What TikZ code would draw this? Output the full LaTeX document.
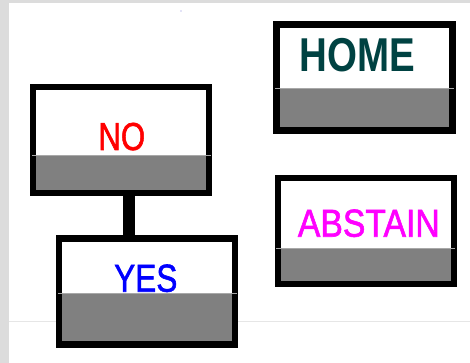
\documentclass[tikz,border=0pt]{standalone}
\usepackage{fontspec}
\usepackage{graphicx}
\setmainfont{Liberation Sans}
\newfontfamily\medfont[FakeBold=1.6]{Liberation Sans}
\usetikzlibrary{calc}
\definecolor{bggray}{HTML}{DCDCDC}
\definecolor{bandgray}{HTML}{808080}
\definecolor{sepgray}{HTML}{A8A8A8}
\definecolor{faintgray}{HTML}{E6E6E6}
\definecolor{hometeal}{RGB}{0,66,66}
\definecolor{dotlav}{HTML}{C8C8F0}
\definecolor{noRed}{HTML}{FF0000}
\definecolor{yesBlue}{HTML}{0000FF}
\definecolor{absMagenta}{HTML}{FF00FF}
\newcommand\mybandfill[2]{%
  \fill[bandgray] ($(#1.south west)+(3.15,3.15)$) rectangle ($(#1.south east)+(-3.15,3.15+#2)$);
  \draw[sepgray, line width=0.9pt] ($(#1.south west)+(-1.5,3.15+#2)$) -- ($(#1.south east)+(1.5,3.15+#2)$);
}
\begin{document}
\begin{tikzpicture}[x=1pt,y=1pt,
  box/.style={draw=black, line width=6.3pt, minimum width=176pt, minimum height=106pt, inner sep=0pt, outer sep=0pt},
  lbl/.style={anchor=base, inner sep=0pt, font=\medfont\fontsize{39}{39}\selectfont},
  homelbl/.style={anchor=base, inner sep=0pt, font=\fontsize{47.5}{47.5}\selectfont\bfseries},
  link/.style={draw=black, line width=12.3pt}]
\useasboundingbox (0,0) rectangle (470,363);
\fill[bggray] (0,0) rectangle (470,363);
\fill[white] (9,0) rectangle (470,360);
\draw[faintgray, line width=0.9pt] (9,42) -- (470,42);
\fill[dotlav] (181,352) circle (0.8);

\node[box] (no) at (121.3,223.3) {};
\node[box] (yes) at (147.3,71.4) {};
\node[box] (home) at (364.6,285.6) {};
\node[box] (abstain) at (365.8,132.2) {};

\mybandfill{no}{34.3}
\mybandfill{yes}{47.7}
\mybandfill{home}{39}
\mybandfill{abstain}{32.3}

\coordinate (cx) at (128.8,0);
\draw[link] (cx |- no.south) -- (cx |- yes.north);

\node[lbl, text=noRed] (noText) at (121.8,213) {\scalebox{0.80}[1]{NO}};
\node[lbl, text=yesBlue] (yesText) at (145.8,71.3) {\scalebox{0.81}[1]{YES}};
\node[lbl, text=absMagenta] (abstainText) at (368.8,126.3) {\scalebox{0.865}[1]{ABSTAIN}};
\node[homelbl, text=hometeal] (homeText) at (357.5,291) {\scalebox{0.81}[1]{HOME}};
\end{tikzpicture}
\end{document}
